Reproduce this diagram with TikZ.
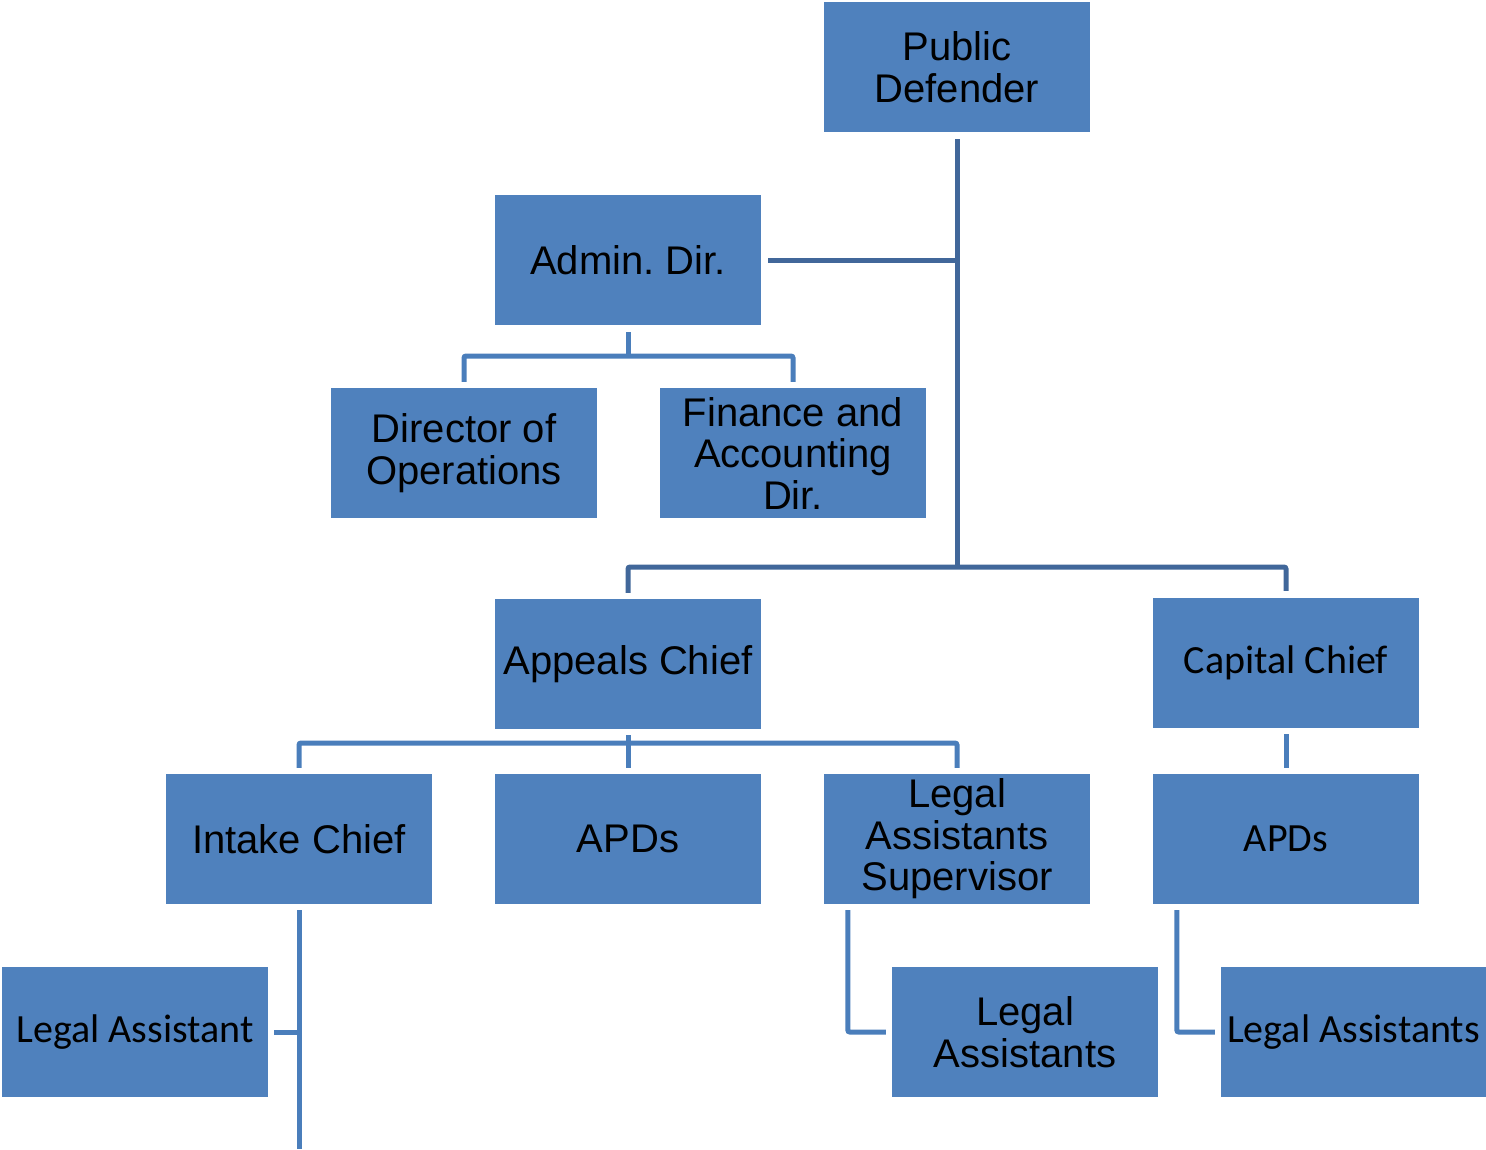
\documentclass[tikz,border=0pt]{standalone}
\usepackage{fontspec}
\newfontfamily\arialf{Liberation Sans}
\newfontfamily\calf{Carlito}
\frenchspacing
\definecolor{boxblue}{HTML}{4F81BD}
\definecolor{trunkblue}{HTML}{41679A}
\definecolor{linkblue}{HTML}{4A7EBB}
\tikzset{
  unit/.style={fill=boxblue, minimum width=266pt, minimum height=130pt,
    inner sep=0pt, align=center, text=black},
  sansA/.style={unit, font=\arialf\fontsize{40}{41.5}\selectfont},
  sansC/.style={unit, font=\calf\fontsize{40}{41.5}\selectfont},
  trunk/.style={draw=trunkblue, line width=5pt},
  link/.style={draw=linkblue, line width=5pt, rounded corners=2pt},
}
\begin{document}
\begin{tikzpicture}[x=1pt, y=-1pt]
\useasboundingbox (0,0) rectangle (1486,1149);

% units
\node[sansA] (pd)   at (957,67)    {Public\\Defender};
\node[sansA] (ad)   at (628,260)   {Admin. Dir.};
\node[sansA] (dop)  at (464,453)   {Director of\\Operations};
\node[sansA] (fin)  at (793,453)   {Finance and\\Accounting\\Dir.};
\node[sansA] (ap)   at (628,664)   {Appeals Chief};
\node[sansC] (cc)   at (1286,663)  {Capital Chief};
\node[sansA] (ic)   at (299,839)   {Intake Chief};
\node[sansA] (apd)  at (628,839)   {APDs};
\node[sansA] (las)  at (957,839)   {Legal\\Assistants\\Supervisor};
\node[sansC] (apd2) at (1286,839)  {APDs};
\node[sansC] (la)   at (135,1032)  {Legal Assistant};
\node[sansA] (la2)  at (1025,1032) {Legal\\Assistants};
\node[sansC, minimum width=265pt] (la3) at (1353.5,1032) {Legal Assistants};

% bus points
\coordinate (pdbus) at (957,567);
\coordinate (adbus) at (628,356);
\coordinate (apbus) at (628,743);
\coordinate (icend) at (299,1149);

% Public Defender trunk
\draw[trunk] ([yshift=-7pt]pd.south) -- (pdbus);
\draw[trunk] (pd.south |- ad.east) -- ([xshift=7pt]ad.east);
\draw[trunk, rounded corners=2pt] ([yshift=6pt]ap.north) |- (pdbus) -| ([yshift=7pt]cc.north);

% Admin. Dir. reports
\draw[link] ([yshift=-7pt]ad.south) -- (adbus);
\draw[link] ([yshift=6pt]dop.north) |- (adbus) -| ([yshift=6pt]fin.north);

% Appeals Chief reports
\draw[link] ([yshift=-6pt]ap.south) -- ([yshift=6pt]apd.north);
\draw[link] ([yshift=6pt]ic.north) |- (apbus) -| ([yshift=6pt]las.north);

% Capital Chief reports
\draw[link] ([yshift=-6pt]cc.south) -- ([yshift=6pt]apd2.north);

% Intake Chief line
\draw[link] ([yshift=-6pt]ic.south) -- (icend);
\draw[link] (ic.south |- la.east) -- ([xshift=6pt]la.east);

% assistants
\draw[link] ([xshift=24pt,yshift=-6pt]las.south west) |- ([xshift=-6pt]la2.west);
\draw[link] ([xshift=24pt,yshift=-6pt]apd2.south west) |- ([xshift=-6pt]la3.west);
\end{tikzpicture}
\end{document}
